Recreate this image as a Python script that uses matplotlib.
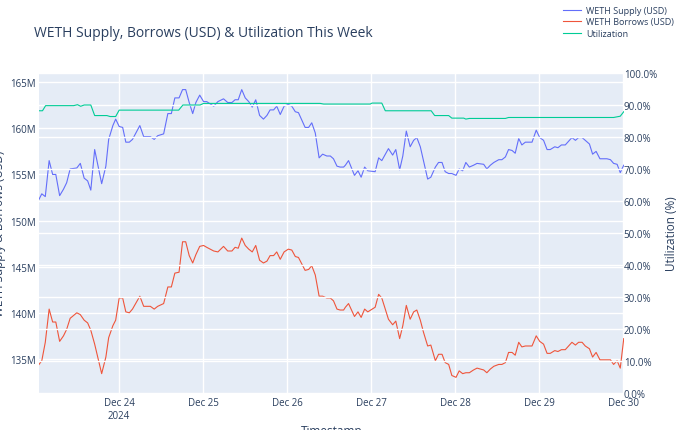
import matplotlib
matplotlib.use("Agg")
import matplotlib.pyplot as plt
import matplotlib.ticker as mticker
import pandas as pd

plt.rcParams["font.family"] = "Open Sans"

# hours since 2024-12-23 00:00
hours = [1.1,1.9,2.9,4.0,5.0,5.9,7.0,8.1,9.0,10.0,11.9,12.9,14.0,15.0,15.9,17.0,19.0,20.2,21.0,22.2,
         23.0,24.0,25.0,25.9,26.9,27.8,29.9,31.0,32.9,34.0,35.0,36.7,37.9,38.9,39.9,41.1,42.1,43.0,44.0,45.0,
         45.9,47.0,48.1,49.0,51.0,52.2,53.8,55.0,56.2,57.1,58.0,59.0,60.0,61.0,62.0,63.0,64.1,65.2,66.2,67.1,
         68.1,69.0,70.0,71.1,72.3,73.3,74.3,75.2,77.1,78.1,79.0,80.0,81.1,82.1,83.3,84.3,85.2,86.2,87.1,88.1,
         88.6,89.5,91.2,92.2,93.1,94.1,95.0,97.1,98.1,99.0,100.9,102.1,103.0,104.1,105.0,106.0,107.1,108.1,109.0,110.0,
         110.9,112.1,113.0,114.3,115.2,116.2,117.1,118.1,119.0,120.2,121.1,122.1,123.0,124.0,125.2,126.2,128.1,129.0,130.0,131.0,
         132.4,133.3,134.3,135.2,136.2,137.1,138.1,139.0,140.0,141.9,143.1,144.1,145.2,146.2,147.1,148.4,149.3,150.3,151.4,153.3,
         154.3,155.2,156.2,157.1,158.3,159.2,160.2,161.3,163.3,164.3,165.2,166.2,167.1,168.1]
supply_m = [152.3,152.9,152.6,156.5,155.0,155.0,152.7,153.4,154.1,155.6,155.7,156.2,154.6,154.3,153.3,157.7,154.0,155.9,158.8,160.3,
            161.0,160.2,160.1,158.5,158.5,158.8,160.3,159.1,159.1,158.8,159.2,159.4,161.6,161.6,163.3,163.3,164.2,164.2,162.8,161.6,
            162.8,163.6,162.9,162.9,162.4,162.9,163.2,162.8,162.8,163.1,163.1,164.2,163.3,162.9,162.3,163.1,161.4,161.0,161.4,162.0,
            162.0,162.4,161.5,162.4,162.6,162.4,161.8,161.7,160.1,160.1,160.6,159.5,156.8,157.2,157.0,157.0,156.7,155.9,155.8,155.8,
            156.0,156.5,154.9,155.4,154.7,155.8,155.4,155.3,156.8,156.5,157.8,157.1,157.7,155.5,157.0,159.7,158.0,158.7,159.0,158.0,
            156.5,154.5,154.7,155.8,156.3,156.3,155.3,155.1,155.1,154.9,155.6,155.4,156.3,155.8,156.0,156.2,156.1,155.6,156.0,156.3,
            156.6,156.6,156.9,157.7,157.6,157.3,158.9,158.2,158.5,158.5,159.8,159.0,158.7,157.7,157.7,158.0,157.9,158.2,158.2,159.0,
            158.7,159.0,159.0,158.7,158.3,157.2,157.5,156.7,156.7,156.6,156.2,156.1,155.2,156.0]
borrows_m = [134.4,134.8,136.8,140.4,139.0,139.0,136.9,137.5,138.2,139.4,140.0,139.8,139.2,138.9,138.1,136.6,133.4,135.2,137.3,138.6,
             139.2,141.6,141.6,140.1,140.0,140.4,141.8,140.7,140.7,140.4,140.7,141.0,142.8,142.8,144.3,144.4,147.7,147.7,146.2,145.4,
             146.3,147.2,147.3,147.1,146.7,146.6,147.2,146.7,146.7,147.1,147.0,148.1,147.3,146.9,146.6,147.3,145.7,145.4,145.6,146.2,
             146.2,146.6,145.8,146.6,146.9,146.8,146.1,146.0,144.6,144.7,145.1,144.1,141.8,141.8,141.6,141.6,141.3,140.4,140.3,140.3,
             140.6,141.0,139.6,140.1,139.5,140.4,140.1,140.6,142.0,141.6,139.3,138.7,139.1,137.2,138.6,140.8,139.3,140.1,140.3,139.2,
             137.9,136.4,136.5,134.8,135.5,135.5,134.6,134.4,133.2,133.0,133.7,133.4,133.5,133.5,133.8,134.0,133.8,133.5,133.9,134.2,
             134.4,134.4,134.6,135.7,135.7,135.4,136.8,136.3,136.4,136.4,137.5,136.9,136.6,135.6,135.6,135.9,135.8,136.0,136.0,136.8,
             136.5,136.8,136.8,136.4,136.1,135.2,135.7,134.9,134.9,134.9,134.4,134.8,134.0,137.2]
util_hours = [1.1,2.1,3.0,11.0,12.1,13.0,14.0,15.9,17.0,20.5,21.4,23.0,24.0,41.0,42.2,47.1,48.1,81.4,82.4,
              95.7,96.2,99.0,100.0,113.1,114.1,118.1,119.0,122.4,123.0,124.0,134.3,135.2,165.2,167.1,168.1]
util_pct = [88.2,88.2,89.8,89.8,90.1,89.6,90.0,90.0,86.7,86.7,86.4,86.4,88.4,88.4,90.0,90.0,90.5,90.5,90.3,
            90.3,90.6,90.6,88.2,88.2,86.7,86.7,85.9,85.9,85.6,85.8,85.8,86.1,86.1,86.5,87.9]

base = pd.Timestamp("2024-12-23")
t = base + pd.to_timedelta(hours, unit="h")
tu = base + pd.to_timedelta(util_hours, unit="h")

txt = "#2a3f5f"
fig = plt.figure(figsize=(6.9, 4.31), dpi=100)
ax = fig.add_axes([0.0565, 0.0858, 0.8475, 0.7425])
ax.set_facecolor("#E5ECF6")
ax2 = ax.twinx()

l1, = ax.plot(t, [v * 1e6 for v in supply_m], color="#636EFA", lw=0.8, label="WETH Supply (USD)")
l2, = ax.plot(t, [v * 1e6 for v in borrows_m], color="#EF553B", lw=0.8, label="WETH Borrows (USD)")
l3, = ax2.plot(tu, util_pct, color="#00CC96", lw=0.8, label="Utilization")

ax.set_xlim(t[0], t[-1])
ax.set_ylim(131.3e6, 166.0e6)
ax2.set_ylim(0, 100)
ax.set_yticks([135e6, 140e6, 145e6, 150e6, 155e6, 160e6, 165e6])
ax.yaxis.set_major_formatter(mticker.FuncFormatter(lambda v, p: f"{v/1e6:.0f}M"))
ax2.set_yticks(range(0, 101, 10))
ax2.yaxis.set_major_formatter(mticker.FuncFormatter(lambda v, p: f"{v:.1f}%"))
ticks = pd.date_range("2024-12-24", "2024-12-30", freq="D")
ax.set_xticks(ticks)
ax.set_xticklabels(["Dec 24\n2024"] + [d.strftime("Dec %d") for d in ticks[1:]])

ax.grid(True, color="white", lw=1)
ax2.grid(True, color="white", lw=1)
ax.set_axisbelow(True)
for a in (ax, ax2):
    for s in a.spines.values():
        s.set_visible(False)
    a.tick_params(length=0, colors=txt, labelsize=7)
ax.tick_params(axis="y", pad=2)
ax.tick_params(axis="x", pad=3)
ax2.tick_params(axis="y", pad=0)
ax.set_xlabel("Timestamp", color=txt, fontsize=8.5, labelpad=2)
ax.set_ylabel("WETH Supply & Borrows (USD)", color=txt, fontsize=8.5, labelpad=3)
ax2.set_ylabel("Utilization (%)", color=txt, fontsize=8.5, labelpad=6)

fig.text(0.05, 0.923, "WETH Supply, Borrows (USD) & Utilization This Week", color=txt, fontsize=10, va="center")
fig.legend(handles=[l1, l2, l3], loc="upper left", bbox_to_anchor=(0.806, 1.0), frameon=False,
           fontsize=6.5, labelcolor=txt, handlelength=2.0, borderpad=0.3, labelspacing=0.25, handletextpad=0.5)

fig.savefig("out.png", dpi=100)
